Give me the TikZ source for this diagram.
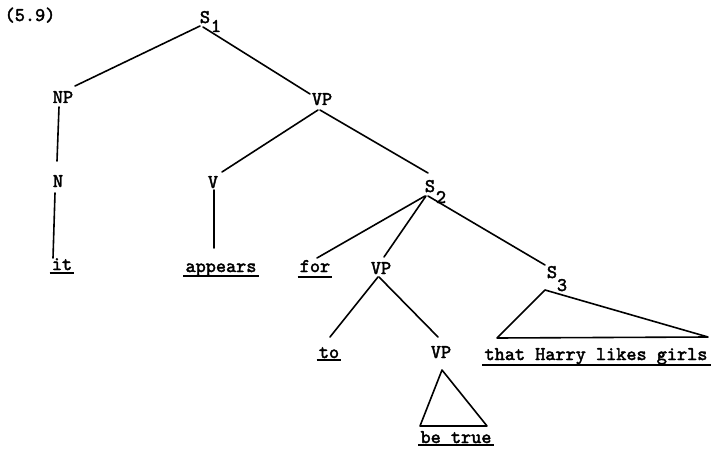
\documentclass[tikz,border=0pt]{standalone}
\usepackage{fontspec}
\newfontfamily\twfont[FakeBold=2.2]{lmmono10-regular.otf}
\usetikzlibrary{calc}
\begin{document}
\begin{tikzpicture}[x=1pt,y=-1pt,
  txt/.style={font=\twfont\fontsize{19.3}{22}\selectfont, inner sep=0pt, anchor=base},
  br/.style={line width=1.6pt, line cap=round},
  ul/.style={line width=2pt}]
\useasboundingbox[fill=white] (0,0) rectangle (711,449);
% labels
\node[txt] (ex) at (30,21) {(5.9)};
\node[txt] (S1) at (205,23) {S};
\node[txt] (S1sub) at (216,32) {1};
\node[txt] (NP) at (63,103) {NP};
\node[txt] (VPa) at (322,105) {VP};
\node[txt] (N) at (58,187) {N};
\node[txt] (V) at (213,188) {V};
\node[txt] (S2) at (430,192) {S};
\node[txt] (S2sub) at (441,203) {2};
\node[txt] (it) at (62,270) {it};
\node[txt] (appears) at (221,272) {appears};
\node[txt] (for) at (315,272) {for};
\node[txt] (VPb) at (381,274) {VP};
\node[txt] (S3) at (552,278) {S};
\node[txt] (S3sub) at (562,291) {3};
\node[txt] (to) at (329,358) {to};
\node[txt] (VPc) at (441,358) {VP};
\node[txt] (that) at (596,360) {that Harry likes girls};
\node[txt] (be) at (456,443) {be true};
% underlines
\foreach \w/\d in {it/3, appears/4, for/5, to/2, be/2}{
  \draw[ul] ($(\w.base west)+(-2,\d)$) -- ($(\w.base east)+(2,\d)$);
}
\draw[ul] ($(that.base west)+(-2,5)$) -- ($(that.base east)+(3,5)$);
% branches
\draw[br] ($(S1.base)+(-5,3)$) -- ($(NP.base)+(12,-17)$);
\draw[br] ($(S1.base)+(-2,4)$) -- ($(VPa.base)+(-12,-11)$);
\draw[br] ($(NP.base)+(-4,4)$) -- ($(N.base)+(-1,-26)$);
\draw[br] ($(N.base)+(-3,6)$) -- ($(it.base)+(-9,-12)$);
\draw[br] ($(VPa.base)+(-4,5)$) -- ($(V.base)+(9,-16)$);
\draw[br] ($(VPa.base)+(-2,5)$) -- ($(S2.base)+(-2,-19)$);
\draw[br] ($(V.base)+(1,2)$) -- ($(appears.base)+(-7,-24)$);
\draw[br] ($(S2.base)+(-5,4)$) -- ($(for.base)+(2,-14)$);
\draw[br] ($(S2.base)+(-4,4)$) -- ($(VPb.base)+(3,-17)$);
\draw[br] ($(S2.base)+(-2,4)$) -- ($(S3.base)+(-7,-13)$);
\draw[br] ($(VPb.base)+(-3,3)$) -- ($(to.base)+(1,-21)$);
\draw[br] ($(VPb.base)+(-2,3)$) -- ($(VPc.base)+(-3,-21)$);
% triangles
\draw[br, line join=round] ($(S3.base)+(-7,12)$) -- ($(that.base)+(-99,-22)$) -- ($(that.base)+(112,-23)$) -- cycle;
\draw[br, line join=round] ($(VPc.base)+(1,12)$) -- ($(be.base)+(-36,-17)$) -- ($(be.base)+(31,-17)$) -- cycle;
\end{tikzpicture}
\end{document}
